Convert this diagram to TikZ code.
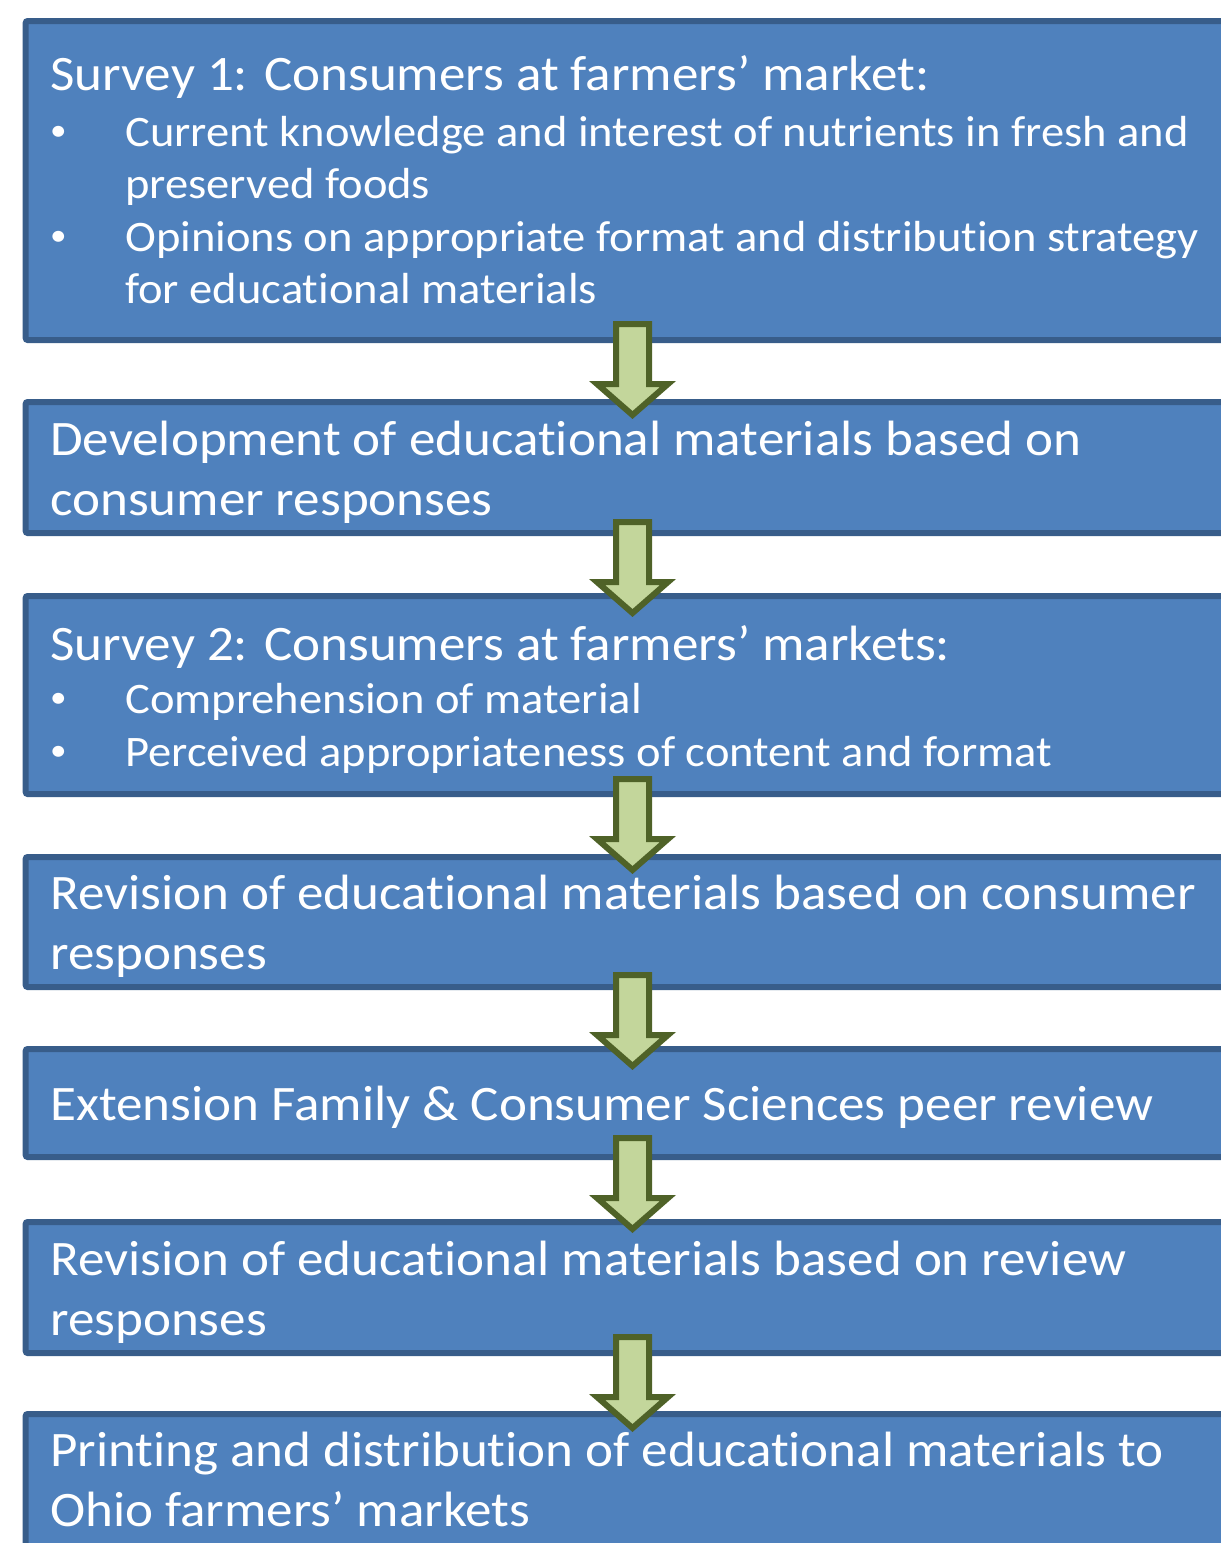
\documentclass[tikz,border=0pt]{standalone}
\usepackage{fontspec}
\setmainfont{Carlito}[FakeStretch=1.07, Ligatures=CommonOff]
\definecolor{boxfill}{HTML}{4F81BD}
\definecolor{boxedge}{HTML}{385D8A}
\definecolor{arrowfill}{HTML}{C3D69B}
\definecolor{arrowedge}{HTML}{4F6228}
% block arrow pointing down: #1 = centre x, #2 = top of the outline
\newcommand\flowarrow[2]{%
  \draw[flow] (#1-16.5,#2+3) -- (#1+16.5,#2+3) -- (#1+16.5,#2+63) -- (#1+35.5,#2+63)
    -- (#1,#2+94) -- (#1-35.5,#2+63) -- (#1-16.5,#2+63) -- cycle;}
\begin{document}
\begin{tikzpicture}[x=1pt,y=-1pt,
  box/.style={rectangle, draw=boxedge, fill=boxfill, line width=6pt, rounded corners=2pt,
    inner sep=0pt, outer sep=0pt, minimum width=1300pt, anchor=north west},
  head/.style={text=white, inner sep=0pt, anchor=base west, font=\fontsize{49.6}{59}\selectfont},
  item/.style={text=white, inner sep=0pt, anchor=base west, font=\fontsize{43.5}{53}\selectfont},
  dot/.style={text=white, inner sep=0pt, anchor=base west, font=\fontsize{31}{37}\selectfont}]
\tikzset{flow/.style={fill=arrowfill, draw=arrowedge, line width=6pt}}
\useasboundingbox (0,0) rectangle (1221,1543);
\clip (0,0) rectangle (1221,1543);

% process steps
\node[box, minimum height=319pt] (b1) at (25.7,21) {};
\node[box, minimum height=131pt] (b2) at (25.7,402) {};
\node[box, minimum height=198pt] (b3) at (25.7,596) {};
\node[box, minimum height=130pt] (b4) at (25.7,857) {};
\node[box, minimum height=108pt] (b5) at (25.7,1049) {};
\node[box, minimum height=131pt] (b6) at (25.7,1222) {};
\node[box, minimum height=186pt] (b7) at (25.7,1414) {};

% step 1
\node[head] (t1a) at (50,90) {Survey 1: Consumers at farmers’ market:};
\node[dot] (d1a) at (50,140) {•};
\node[item] (t1b) at (125,146) {Current knowledge and interest of nutrients in fresh and};
\node[item] (t1c) at (125,198) {preserved foods};
\node[dot] (d1b) at (50,245) {•};
\node[item] (t1d) at (125,251) {Opinions on appropriate format and distribution strategy};
\node[item] (t1e) at (125,303) {for educational materials};

% step 2
\node[head] (t2a) at (50,455) {Development of educational materials based on};
\node[head] (t2b) at (50,515) {consumer responses};

% step 3
\node[head] (t3a) at (50,660) {Survey 2: Consumers at farmers’ markets:};
\node[dot] (d3a) at (50,707) {•};
\node[item] (t3b) at (125,713) {Comprehension of material};
\node[dot] (d3b) at (50,760) {•};
\node[item] (t3c) at (125,766) {Perceived appropriateness of content and format};

% step 4
\node[head] (t4a) at (50,909) {Revision of educational materials based on consumer};
\node[head] (t4b) at (50,969) {responses};

% step 5
\node[head] (t5a) at (50,1120) {Extension Family \& Consumer Sciences peer review};

% step 6
\node[head] (t6a) at (50,1275) {Revision of educational materials based on review};
\node[head] (t6b) at (50,1335) {responses};

% step 7
\node[head] (t7a) at (50,1466) {Printing and distribution of educational materials to};
\node[head] (t7b) at (50,1526) {Ohio farmers’ markets};

% arrows between steps
\flowarrow{632.5}{321}
\flowarrow{632.5}{519}
\flowarrow{632.5}{776}
\flowarrow{632.5}{972}
\flowarrow{632.5}{1135}
\flowarrow{632.5}{1334}
\end{tikzpicture}
\end{document}
